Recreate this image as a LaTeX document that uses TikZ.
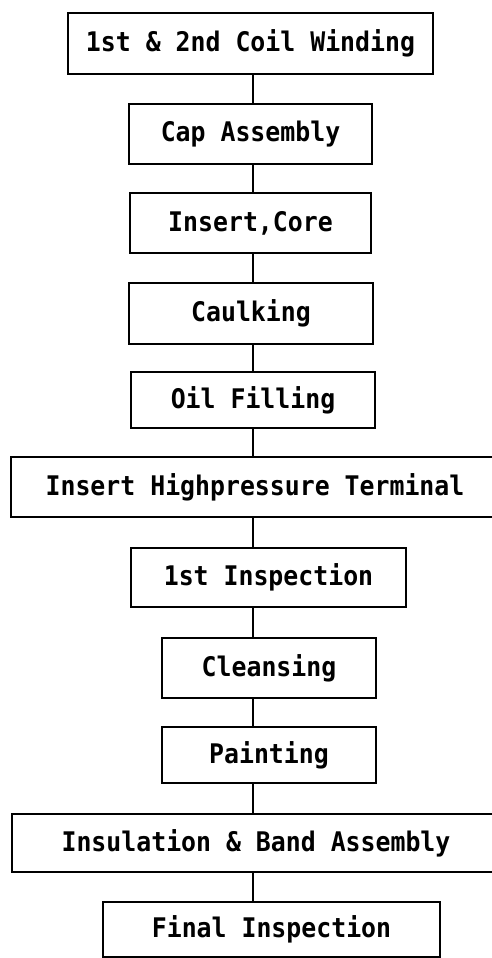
\documentclass[tikz,border=0pt]{standalone}
\usepackage{fontspec}
\newfontfamily\flowfont{DejaVu Sans Mono}[FakeStretch=0.92]

\begin{document}
\begin{tikzpicture}[x=1pt, y=-1pt, every node/.style={rectangle, draw, line width=2.6pt, inner sep=0pt, font=\flowfont\bfseries\fontsize{27}{30}\selectfont}]
			\useasboundingbox (0, 0) rectangle (491, 958);
			\coordinate (spine) at (253, 0);
			
			\node[minimum width=365, minimum height=61] (coil) at (250.5, 43.5) {1st \& 2nd Coil Winding};
			\node[minimum width=243, minimum height=60] (cap) at (250.5, 134) {Cap Assembly};
			\node[minimum width=241, minimum height=60] (core) at (250.5, 223) {Insert,Core};
			\node[minimum width=244, minimum height=61] (caulk) at (251, 313.5) {Caulking};
			\node[minimum width=244, minimum height=56] (oil) at (253, 400) {Oil Filling};
			\node[minimum width=488, minimum height=60] (term) at (255, 487) {Insert Highpressure Terminal};
			\node[minimum width=275, minimum height=59] (insp) at (268.5, 577.5) {1st Inspection};
			\node[minimum width=214, minimum height=60] (clean) at (269, 668) {Cleansing};
			\node[minimum width=214, minimum height=56] (paint) at (269, 755) {Painting};
			\node[minimum width=488, minimum height=58] (band) at (256, 843) {Insulation \& Band Assembly};
			\node[minimum width=337, minimum height=55] (final) at (271.5, 929.5) {Final Inspection};
			
			\draw[line width=2.6pt] (coil.south -| spine) -- (cap.north -| spine);
			\draw[line width=2.6pt] (cap.south -| spine) -- (core.north -| spine);
			\draw[line width=2.6pt] (core.south -| spine) -- (caulk.north -| spine);
			\draw[line width=2.6pt] (caulk.south -| spine) -- (oil.north -| spine);
			\draw[line width=2.6pt] (oil.south -| spine) -- (term.north -| spine);
			\draw[line width=2.6pt] (term.south -| spine) -- (insp.north -| spine);
			\draw[line width=2.6pt] (insp.south -| spine) -- (clean.north -| spine);
			\draw[line width=2.6pt] (clean.south -| spine) -- (paint.north -| spine);
			\draw[line width=2.6pt] (paint.south -| spine) -- (band.north -| spine);
			\draw[line width=2.6pt] (band.south -| spine) -- (final.north -| spine);
		\end{tikzpicture}
\end{document}
